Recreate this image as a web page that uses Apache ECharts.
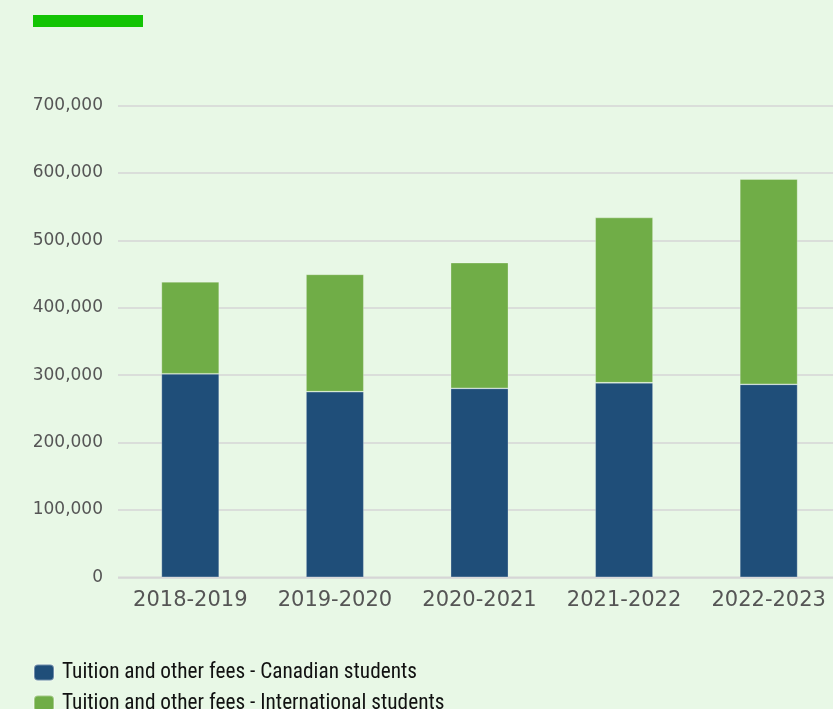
<!DOCTYPE html>
<html>
<head>
<meta charset="utf-8">
<script src="https://cdn.jsdelivr.net/npm/echarts@6/dist/echarts.min.js"></script>
<style>
html,body{margin:0;padding:0;background:#E8F8E6;overflow:hidden;width:833px;height:709px;}
#c{width:841px;height:709px;}
</style>
</head>
<body>
<div id="c"></div>
<script>
const categories = ['2018-2019','2019-2020','2020-2021','2021-2022','2022-2023'];
const canadian = [302000, 275400, 280400, 288700, 286400];
const international = [136600, 174200, 186600, 245300, 304600];
const seriesNames = ['Tuition and other fees - Canadian students','Tuition and other fees - International students'];

const legendText = {fontFamily:'"Liberation Sans Narrow","Roboto Condensed","Liberation Sans",sans-serif', fontSize:21.3, color:'#111', padding:[0,0,0,3]};
const chart = echarts.init(document.getElementById('c'));
chart.setOption({
  backgroundColor: '#E8F8E6',
  animation: false,
  graphic: [
    {type:'rect', left:33, top:15, shape:{width:110,height:12}, style:{fill:'#13C404'}},
    {type:'line', shape:{x1:118, y1:577.3, x2:841, y2:577.3}, style:{stroke:'#d6d6d6', lineWidth:1.5}, z:-1}
  ],
  grid: {left:118, right:0, top:105.6, bottom:131.7, containLabel:false},
  legend: [
    {orient:'horizontal', left:33, top:662, itemWidth:20, itemHeight:16, itemGap:9,
     icon:'roundRect', textStyle:legendText, data:[seriesNames[0]], padding:0},
    {orient:'horizontal', left:33, top:693, itemWidth:20, itemHeight:16, itemGap:9,
     icon:'roundRect', textStyle:legendText, data:[seriesNames[1]], padding:0}
  ],
  xAxis: {
    type:'category', data:categories,
    axisLine:{show:false},
    axisTick:{show:false},
    axisLabel:{interval:0, hideOverlap:false, color:'#555', fontFamily:'"DejaVu Sans",sans-serif', fontSize:21, margin:13}
  },
  yAxis: {
    type:'value', min:0, max:700000, interval:100000,
    axisLine:{show:false}, axisTick:{show:false},
    splitLine:{lineStyle:{color:'#d6d6d6', width:1.5}},
    axisLabel:{color:'#555', fontFamily:'"DejaVu Sans",sans-serif', fontSize:17, margin:15,
      formatter:v=>v.toLocaleString('en-US')}
  },
  series: [
    {name:seriesNames[0], type:'bar', stack:'t', data:canadian, barWidth:'40%',
     itemStyle:{color:'#1F4E79', borderColor:'rgba(255,255,255,0.35)', borderWidth:0.8}},
    {name:seriesNames[1], type:'bar', stack:'t', data:international, barWidth:'40%',
     itemStyle:{color:'#70AD47', borderColor:'rgba(255,255,255,0.35)', borderWidth:0.8}}
  ]
});
</script>
</body>
</html>
